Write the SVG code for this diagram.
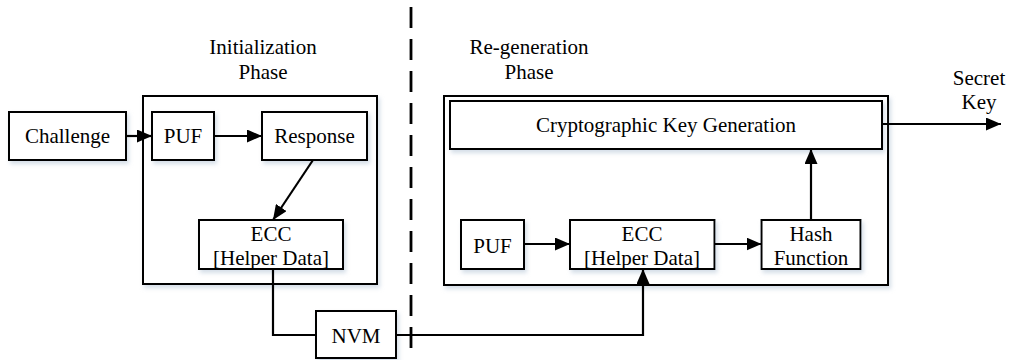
<svg xmlns="http://www.w3.org/2000/svg" width="1012" height="360" viewBox="0 0 1012 360">
<defs>
<marker id="arr" viewBox="0 0 15 13" refX="15" refY="6.5" markerWidth="15" markerHeight="13" markerUnits="userSpaceOnUse" orient="auto">
<path d="M0,0 L15,6.5 L0,13 Z" fill="#000"/>
</marker>
<filter id="sh" x="-10%" y="-10%" width="120%" height="130%">
<feDropShadow dx="2" dy="3" stdDeviation="2" flood-color="#b8c8d8" flood-opacity="0.6"/>
</filter>
</defs>
<style>
.box{fill:#fff;stroke:#000;stroke-width:2;filter:url(#sh)}
.frame{fill:#fff;stroke:#000;stroke-width:2;filter:url(#sh)}
text{font-family:'Liberation Serif','Times New Roman',serif;font-size:21px;fill:#000;text-anchor:middle}
.c{fill:none;stroke:#000;stroke-width:2.2}
.dash{fill:none;stroke:#000;stroke-width:2.8;stroke-dasharray:21 11}
</style>
<rect width="1012" height="360" fill="#fff"/>
<g id="labels">
<text x="263" y="54">Initialization</text>
<text x="263" y="79">Phase</text>
<text x="529" y="54">Re-generation</text>
<text x="529" y="79">Phase</text>
<text x="979" y="85">Secret</text>
<text x="979" y="109">Key</text>
</g>
<g id="init-phase"><rect class="frame" x="143" y="96" width="234" height="188"/></g>
<g id="regen-phase"><rect class="frame" x="444" y="96" width="444" height="189"/></g>
<g id="challenge"><rect class="box" x="9" y="112" width="117" height="48"/><text x="67.5" y="143">Challenge</text></g>
<g id="puf1"><rect class="box" x="152" y="112" width="62" height="48"/><text x="183" y="143">PUF</text></g>
<g id="response"><rect class="box" x="262" y="112" width="105" height="48"/><text x="314.5" y="143">Response</text></g>
<g id="ecc1"><rect class="box" x="199" y="220" width="144" height="49"/><text x="271" y="241">ECC</text><text x="271" y="265">[Helper Data]</text></g>
<g id="nvm"><rect class="box" x="316" y="311" width="80" height="47"/><text x="356" y="343">NVM</text></g>
<g id="keygen"><rect class="box" x="450" y="101" width="432" height="48"/><text x="666" y="132">Cryptographic Key Generation</text></g>
<g id="puf2"><rect class="box" x="461" y="220" width="63" height="49"/><text x="492.5" y="253">PUF</text></g>
<g id="ecc2"><rect class="box" x="570" y="220" width="144.5" height="49"/><text x="642" y="241">ECC</text><text x="642" y="265">[Helper Data]</text></g>
<g id="hash"><rect class="box" x="761.5" y="220" width="99" height="49"/><text x="811" y="241">Hash</text><text x="811" y="265">Function</text></g>
<g id="connectors">
<line class="dash" x1="411" y1="7" x2="411" y2="350"/>
<line class="c" x1="126" y1="136" x2="152" y2="136" marker-end="url(#arr)"/>
<line class="c" x1="214" y1="136" x2="262" y2="136" marker-end="url(#arr)"/>
<line class="c" x1="313" y1="160" x2="273" y2="220" marker-end="url(#arr)"/>
<polyline class="c" points="273,269 273,335 316,335"/>
<polyline class="c" points="396,335 643,335 643,269" marker-end="url(#arr)"/>
<line class="c" x1="524" y1="244" x2="570" y2="244" marker-end="url(#arr)"/>
<line class="c" x1="714.5" y1="244" x2="761.5" y2="244" marker-end="url(#arr)"/>
<line class="c" x1="811" y1="220" x2="811" y2="149" marker-end="url(#arr)"/>
<line class="c" x1="882" y1="124" x2="1001" y2="124" marker-end="url(#arr)"/>
</g>
</svg>
